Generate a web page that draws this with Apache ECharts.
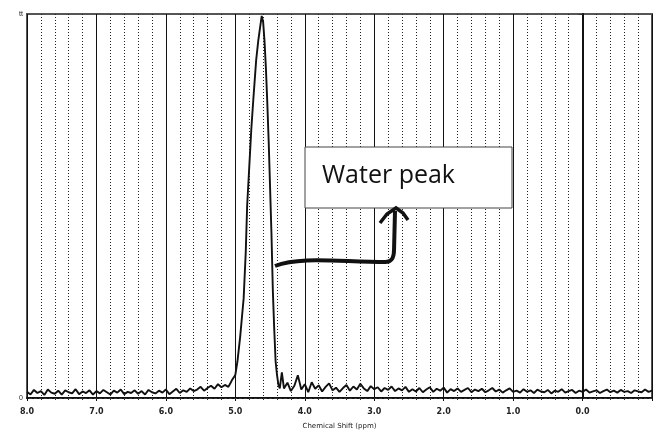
<!DOCTYPE html>
<html>
<head>
<meta charset="utf-8">
<script src="https://cdn.jsdelivr.net/npm/echarts@6/dist/echarts.min.js"></script>
<style>html,body{margin:0;padding:0;background:#fff}#c{width:660px;height:435px}</style>
</head>
<body>
<div id="c"></div>
<script>
// x grid start / step for the two noisy baseline segments (ppm)
const leftStart = 8.00, rightStart = 4.30, step = 0.05;
const noiseLeft = [1.6,0.9,2.1,1.3,1.8,0.8,2.2,1.4,1.1,1.9,0.9,2.0,1.5,1.2,2.3,1.0,1.7,1.3,2.0,0.9,
 1.8,1.2,2.1,1.5,0.9,1.9,1.4,2.2,1.0,1.6,1.3,2.0,1.1,1.8,0.9,2.1,1.5,1.2,1.9,1.4,
 2.2,1.0,1.7,2.4,1.3,2.0,1.6,2.5,1.8,2.2,2.9,1.9,2.6,3.2,2.4,3.6,2.8,3.4,2.9];
const peakShift = [5.07,5.05,5.03,5.00,4.97,4.93,4.90,4.88,4.85,4.83,4.80,4.77,4.74,4.70,4.67,4.64,4.62,4.60,4.58,4.56,4.54,4.52,4.50,4.48,4.46,4.44,4.42,4.40,4.38,4.36,4.33];
const peakValue = [3.9,4.6,4.2,6,9.5,16,22,26,38,50,60,70,78,88,93,97,99.5,98,93,86,77,67,55,43,28,18,9.5,6,3.5,2.5,6.7];
const noiseRight = [2.5,4.0,1.8,3.2,5.9,2.2,3.6,1.5,4.1,2.4,3.3,1.7,2.9,3.8,2.0,2.7,1.6,
 2.6,3.4,1.9,3.0,2.2,3.7,2.5,1.8,3.1,2.3,2.8,1.7,2.6,2.1,3.0,1.8,2.5,2.0,2.9,1.6,
 2.3,1.7,2.6,1.5,2.2,2.8,1.6,2.4,1.9,2.7,1.4,2.3,1.8,2.5,1.6,2.1,2.6,1.5,2.2,1.8,2.4,1.5,2.0,2.6,1.7,2.2,1.4,2.0,2.5,1.6,
 1.9,1.4,2.3,1.6,2.0,1.3,2.2,1.7,1.5,2.1,1.2,1.9,1.6,2.3,1.4,1.8,2.1,1.3,1.9,1.6,2.2,1.4,1.7,2.0,1.3,1.8,2.2,1.5,1.9,1.4,2.1,1.6,1.8,1.3,2.0,1.7,1.5,2.2,1.6,1.9];
const xTicks = [8,7,6,5,4,3,2,1,0];
const xTitle = 'Chemical Shift (ppm)';
const annotation = 'Water peak';

const data = [];
noiseLeft.forEach((v,i)=>data.push([+(leftStart - i*step).toFixed(2), v]));
peakShift.forEach((s,i)=>data.push([s, peakValue[i]]));
noiseRight.forEach((v,i)=>data.push([+(rightStart - i*step).toFixed(2), v]));

const chart = echarts.init(document.getElementById('c'), null, {renderer:'canvas'});
chart.setOption({
  animation:false,
  backgroundColor:'#fff',
  grid:{left:27,right:8,top:14,bottom:32,show:true,borderColor:'#555',borderWidth:2,backgroundColor:'transparent'},
  xAxis:{
    type:'value', inverse:true, min:-1, max:8, interval:1, offset:3,
    name:xTitle, nameLocation:'middle', nameGap:22,
    nameTextStyle:{fontSize:7,color:'#222',fontFamily:'DejaVu Sans'},
    axisLine:{show:true,lineStyle:{color:'#111',width:2}},
    axisTick:{show:true,length:3,lineStyle:{color:'#111'}},
    minorTick:{show:true,splitNumber:5,length:2,lineStyle:{color:'#333'}},
    axisLabel:{fontSize:8,fontWeight:'bold',color:'#222',margin:7,fontFamily:'DejaVu Sans',
      formatter:v=>xTicks.indexOf(v)>=0?v.toFixed(1):''},
    splitLine:{show:true,lineStyle:{color:'#111',width:1}},
    minorSplitLine:{show:true,lineStyle:{color:'#222',width:1,type:[1,2]}}
  },
  yAxis:{
    type:'value', min:0, max:100, interval:100,
    axisLine:{show:true,lineStyle:{color:'#111',width:2}},
    axisTick:{show:true,length:4,lineStyle:{color:'#333'}},
    axisLabel:{fontSize:7,color:'#222',margin:4,formatter:v=>v===0?'0':'tt'},
    splitLine:{show:false}
  },
  series:[{
    type:'line', data:data, symbol:'none', smooth:false,
    lineStyle:{color:'#111',width:1.9},
    markLine:{silent:true,symbol:'none',label:{show:false},
      lineStyle:{color:'#333',width:1,type:[3,2]},data:[{yAxis:0}]}
  }],
  graphic:[
    {type:'rect',shape:{x:305,y:147,width:207,height:61},style:{fill:'#fff',stroke:'#444',lineWidth:1},z:100},
    {type:'text',x:322,y:176,style:{text:annotation,fontSize:25,fontFamily:'Open Sans',fill:'#111',textVerticalAlign:'middle'},z:101},
    {type:'bezierCurve',shape:{x1:275,y1:266,x2:386,y2:262,cpx1:300,cpy1:256,cpx2:340,cpy2:262},style:{stroke:'#111',lineWidth:4,fill:null},z:100},
    {type:'bezierCurve',shape:{x1:385,y1:262,x2:394,y2:250,cpx1:393,cpy1:262,cpx2:394,cpy2:256},style:{stroke:'#111',lineWidth:4,fill:null},z:100},
    {type:'line',shape:{x1:394,y1:251,x2:395,y2:211},style:{stroke:'#111',lineWidth:4},z:100},
    {type:'polyline',shape:{points:[[380,223],[387,214],[396,208],[403,213],[408,220]]},style:{stroke:'#111',lineWidth:3.5,fill:null},z:100}
  ]
});
</script>
</body>
</html>
